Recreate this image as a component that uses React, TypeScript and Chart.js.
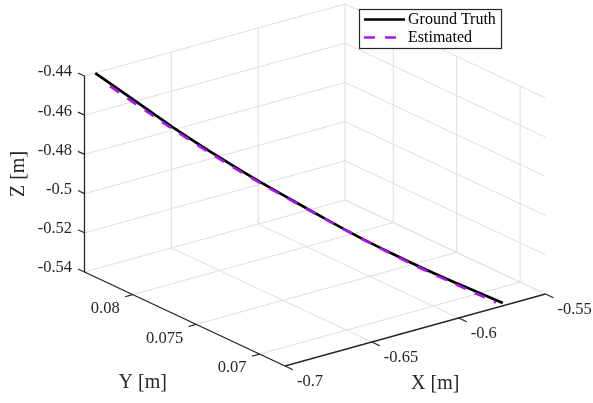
import { useEffect, useRef } from 'react';
import { Chart, registerables } from 'chart.js';

Chart.register(...registerables);

const W = 593;
const H = 403;

// Axis limits of the 3-D box
const xLim = [-0.7, -0.55];
const yLim = [0.068, 0.0838];
const zLim = [-0.54, -0.44];

// Ticks and their labels
const xTicks = [-0.7, -0.65, -0.6, -0.55];
const xTickLabels = ['-0.7', '-0.65', '-0.6', '-0.55'];
const yTicks = [0.07, 0.075, 0.08];
const yTickLabels = ['0.07', '0.075', '0.08'];
const zTicks = [-0.54, -0.52, -0.5, -0.48, -0.46, -0.44];
const zTickLabels = ['-0.54', '-0.52', '-0.5', '-0.48', '-0.46', '-0.44'];

// Ground-truth trajectory
const gtX = [-0.6938, -0.6813, -0.6709, -0.6557, -0.6447, -0.6358, -0.6259, -0.6158, -0.606, -0.5962, -0.5861, -0.5724];
const gtY = [0.0838, 0.0822, 0.0809, 0.079, 0.0775, 0.0764, 0.0751, 0.0738, 0.0726, 0.0713, 0.07, 0.0683];
const gtZ = [-0.44, -0.4532, -0.4641, -0.4787, -0.4886, -0.496, -0.5041, -0.5121, -0.5191, -0.5257, -0.5319, -0.54];

// Estimated trajectory
const estX = [-0.6893, -0.6813, -0.6709, -0.6557, -0.6447, -0.6358, -0.6259, -0.6158, -0.606, -0.5962, -0.5861, -0.5745];
const estY = [0.08325, 0.0822, 0.0809, 0.079, 0.0775, 0.0764, 0.0751, 0.0738, 0.0726, 0.0713, 0.07, 0.06855];
const estZ = [-0.4461, -0.4545, -0.4651, -0.4795, -0.4891, -0.4963, -0.5043, -0.5123, -0.5194, -0.5262, -0.5327, -0.54];

const FONT = '"Liberation Serif", "DejaVu Serif", serif';
const AXIS_COLOR = 'rgb(38,38,38)';
const GRID_COLOR = 'rgb(222,222,222)';
const GT_COLOR = '#000000';
const EST_COLOR = 'rgb(170,20,240)';
const DASH = [11, 10];

// Orthographic view: pixel position of the (xmin, ymin, zmin) corner and
// the pixel span of each axis over its full range.
const VIEW = {
  ox: 285, oy: 366,
  ex: [260.5, -72],
  ey: [-200.5, -94],
  ez: [0, -196],
};

function project(x: number, y: number, z: number) {
  const fx = (x - xLim[0]) / (xLim[1] - xLim[0]);
  const fy = (y - yLim[0]) / (yLim[1] - yLim[0]);
  const fz = (z - zLim[0]) / (zLim[1] - zLim[0]);
  return {
    x: VIEW.ox + VIEW.ex[0] * fx + VIEW.ey[0] * fy + VIEW.ez[0] * fz,
    y: VIEW.oy + VIEW.ex[1] * fx + VIEW.ey[1] * fy + VIEW.ez[1] * fz,
  };
}

type P3 = [number, number, number];

function segment(a: P3, b: P3, color: string, width: number, order: number) {
  return {
    data: [project(a[0], a[1], a[2]), project(b[0], b[1], b[2])],
    borderColor: color,
    borderWidth: width,
    pointRadius: 0,
    fill: false,
    tension: 0,
    clip: false as const,
    order,
  };
}

function buildBoxDatasets() {
  const [x0, x1] = xLim;
  const [y0, y1] = yLim;
  const [z0, z1] = zLim;
  const out: any[] = [];
  // grid on the back walls and floor
  xTicks.forEach((t) => {
    out.push(segment([t, y1, z0], [t, y1, z1], GRID_COLOR, 1, 10));
    out.push(segment([t, y0, z0], [t, y1, z0], GRID_COLOR, 1, 10));
  });
  yTicks.forEach((t) => {
    out.push(segment([x1, t, z0], [x1, t, z1], GRID_COLOR, 1, 10));
    out.push(segment([x0, t, z0], [x1, t, z0], GRID_COLOR, 1, 10));
  });
  zTicks.forEach((t) => {
    out.push(segment([x0, y1, t], [x1, y1, t], GRID_COLOR, 1, 10));
    out.push(segment([x1, y0, t], [x1, y1, t], GRID_COLOR, 1, 10));
  });
  // axis lines
  out.push(segment([x0, y1, z0], [x0, y1, z1], AXIS_COLOR, 1.3, 5));
  out.push(segment([x0, y0, z0], [x0, y1, z0], AXIS_COLOR, 1.3, 5));
  out.push(segment([x0, y0, z0], [x1, y0, z0], AXIS_COLOR, 1.3, 5));
  // tick marks, pointing outward
  const tk = 8;
  const yStep = (tk / Math.hypot(VIEW.ey[0], VIEW.ey[1])) * (y1 - y0);
  const xStep = (tk / Math.hypot(VIEW.ex[0], VIEW.ex[1])) * (x1 - x0);
  zTicks.forEach((t) => out.push(segment([x0, y1, t], [x0, y1 + yStep * 0.9, t], AXIS_COLOR, 1.2, 5)));
  xTicks.forEach((t) => out.push(segment([t, y0, z0], [t, y0 - yStep * 1.1, z0], AXIS_COLOR, 1.2, 5)));
  yTicks.forEach((t) => out.push(segment([x0, t, z0], [x0 - xStep, t, z0], AXIS_COLOR, 1.2, 5)));
  return out;
}

const overlayPlugin = {
  id: 'overlay3d',
  afterDatasetsDraw(chart: any) {
    const { ctx } = chart;
    const sx = chart.scales.x;
    const sy = chart.scales.y;
    const px = (p: { x: number; y: number }) => ({ x: sx.getPixelForValue(p.x), y: sy.getPixelForValue(p.y) });
    ctx.save();
    ctx.fillStyle = AXIS_COLOR;
    ctx.font = `16.5px ${FONT}`;
    ctx.textBaseline = 'middle';

    ctx.textAlign = 'right';
    zTicks.forEach((t, i) => {
      const p = px(project(xLim[0], yLim[1], t));
      ctx.fillText(zTickLabels[i], p.x - 12.5, p.y - 4);
    });
    yTicks.forEach((t, i) => {
      const p = px(project(xLim[0], t, zLim[0]));
      ctx.fillText(yTickLabels[i], p.x - 13, p.y + 14);
    });
    ctx.textAlign = 'left';
    xTicks.forEach((t, i) => {
      const p = px(project(t, yLim[0], zLim[0]));
      ctx.fillText(xTickLabels[i], p.x + 12, p.y + 15.5);
    });

    // axis titles
    ctx.font = `20px ${FONT}`;
    ctx.textAlign = 'center';
    const xm = px(project((xLim[0] + xLim[1]) / 2, yLim[0], zLim[0]));
    ctx.fillText('X [m]', xm.x + 20, xm.y + 54);
    const ym = px(project(xLim[0], (yLim[0] + yLim[1]) / 2, zLim[0]));
    ctx.fillText('Y [m]', ym.x - 42, ym.y + 64);
    const zm = px(project(xLim[0], yLim[1], (zLim[0] + zLim[1]) / 2));
    ctx.save();
    ctx.translate(zm.x - 65.5, zm.y);
    ctx.rotate(-Math.PI / 2);
    ctx.fillText('Z [m]', 0, 0);
    ctx.restore();

    // legend
    const lx = 359.5, ly = 9.5, lw = 142, lh = 39;
    ctx.fillStyle = '#ffffff';
    ctx.fillRect(lx, ly, lw, lh);
    ctx.strokeStyle = AXIS_COLOR;
    ctx.lineWidth = 1.2;
    ctx.strokeRect(lx, ly, lw, lh);
    const entries = [
      { label: 'Ground Truth', color: GT_COLOR, dash: [] as number[], y: 19.5 },
      { label: 'Estimated', color: EST_COLOR, dash: DASH, y: 37.5 },
    ];
    entries.forEach((e) => {
      ctx.beginPath();
      ctx.setLineDash(e.dash);
      ctx.strokeStyle = e.color;
      ctx.lineWidth = 2.6;
      ctx.moveTo(364, e.y);
      ctx.lineTo(405, e.y);
      ctx.stroke();
      ctx.setLineDash([]);
      ctx.fillStyle = '#000000';
      ctx.font = `16px ${FONT}`;
      ctx.textAlign = 'left';
      ctx.fillText(e.label, 408, e.y);
    });
    ctx.restore();
  },
};

export default function App() {
  const canvasRef = useRef<HTMLCanvasElement | null>(null);

  useEffect(() => {
    if (!canvasRef.current) return;
    const gtPts = gtX.map((x, i) => project(x, gtY[i], gtZ[i]));
    const estPts = estX.map((x, i) => project(x, estY[i], estZ[i]));

    const chart = new Chart(canvasRef.current, {
      type: 'line',
      data: {
        datasets: [
          {
            label: 'Estimated',
            data: estPts,
            borderColor: EST_COLOR,
            borderWidth: 2.6,
            borderDash: DASH,
            pointRadius: 0,
            fill: false,
            cubicInterpolationMode: 'monotone',
            clip: false,
            order: 0,
          },
          {
            label: 'Ground Truth',
            data: gtPts,
            borderColor: GT_COLOR,
            borderWidth: 2.7,
            pointRadius: 0,
            fill: false,
            cubicInterpolationMode: 'monotone',
            clip: false,
            order: 1,
          },
          ...buildBoxDatasets(),
        ] as any,
      },
      options: {
        animation: false,
        responsive: false,
        events: [],
        layout: { padding: 0 },
        plugins: { legend: { display: false }, tooltip: { enabled: false } },
        scales: {
          x: { type: 'linear', min: 0, max: W, display: false },
          y: { type: 'linear', min: 0, max: H, reverse: true, display: false },
        },
      },
      plugins: [overlayPlugin],
    });
    return () => chart.destroy();
  }, []);

  return (
    <div style={{ position: 'fixed', left: 0, top: 0, width: W, height: H, background: '#ffffff' }}>
      <canvas ref={canvasRef} width={W} height={H} style={{ display: 'block' }} />
    </div>
  );
}
